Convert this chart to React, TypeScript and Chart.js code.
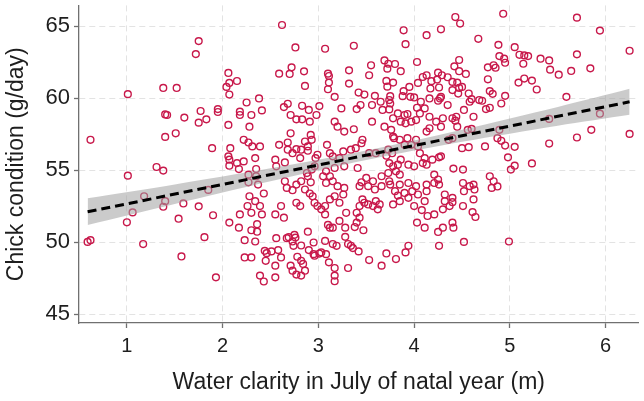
import { useEffect, useRef } from "react";
import { Chart, registerables } from "chart.js";

Chart.register(...registerables);

// Water clarity in July of the natal year (m), one value per chick
const waterClarity = [
  0.62, 1.01, 1.01, 1.38, 1.52, 1.40, 1.42, 1.40, 1.51, 1.60, 1.75, 1.72, 1.77, 1.75, 1.83, 1.89, 1.95, 1.31, 1.38, 1.18, 1.85,
  0.59, 0.62, 1.00, 1.06, 1.17, 1.38, 1.40, 1.54, 1.59, 1.57, 1.75, 1.81, 1.90, 1.93,
  2.62, 2.76, 2.06, 2.07, 2.04, 2.07, 2.15, 2.59, 2.70, 2.72, 2.85, 2.86, 2.25, 2.38, 2.41, 2.64, 2.68, 2.83, 2.90, 3.01, 2.18,
  3.89, 3.91, 3.07, 3.37, 3.10, 3.11, 3.11, 3.10, 3.32, 3.32, 3.55, 3.53, 3.69, 3.73, 3.72, 3.80, 3.86, 4.03, 3.71, 3.78,
  3.72, 3.95, 4.04, 3.17, 3.42, 3.48, 3.59, 3.75, 3.74, 3.75, 3.89, 3.88, 3.96, 4.00, 3.24, 3.40, 3.44, 3.56, 3.65, 4.03,
  4.43, 4.48, 4.93, 5.70, 5.94, 6.25, 4.13, 4.28, 4.67, 4.88, 5.05, 5.10, 5.15, 5.19, 4.89, 4.94, 4.95, 4.47, 5.32, 5.41,
  5.70, 5.42, 5.51, 5.64, 5.84, 5.14, 4.77, 4.83, 4.85, 4.42, 4.47, 4.54, 4.25, 4.29, 4.18, 4.24, 4.09, 4.13, 4.35, 4.40,
  4.45, 4.50, 4.77, 5.09, 5.15, 5.23, 5.28, 4.17, 4.26, 4.28, 4.40, 4.46, 4.47, 4.57, 4.79, 4.82, 4.95, 4.91, 5.59, 4.07,
  4.16, 4.25, 4.27, 4.35, 4.11, 4.52, 4.58, 4.60, 4.68, 4.71, 4.62, 4.75, 4.79, 4.06, 4.16, 4.23, 4.30, 4.40, 4.44, 4.16,
  4.28, 4.43, 4.45, 4.13, 4.56, 4.60, 4.89, 5.41, 5.94, 6.25, 5.70, 5.85, 5.41, 4.87, 4.91, 4.95, 5.05, 4.74, 4.50, 4.57,
  4.40, 4.36, 4.98, 5.23, 5.01, 5.05, 4.79, 4.83, 4.87, 4.81, 4.41, 4.51, 4.51, 4.52, 4.58, 4.62, 4.63, 4.06, 4.11, 4.09,
  4.13, 4.19, 4.26, 4.28, 4.21, 4.25, 4.21, 4.13, 4.26, 4.32, 4.40, 4.13,
  4.11, 4.08, 4.14, 4.21, 4.32, 4.40, 4.37, 4.30, 4.51, 4.62, 4.61, 4.64, 4.11, 4.25, 4.30, 4.40, 4.41, 4.26, 4.52, 4.99,
  1.95, 2.18, 2.30, 2.71, 2.77, 2.83, 2.91, 2.98, 2.06, 2.28, 2.71, 2.22, 2.27, 2.31, 2.39, 2.08, 2.06, 2.07, 2.07, 2.15,
  2.17, 2.22, 2.34, 2.35, 2.59, 2.68, 2.68, 2.73, 2.77, 2.82, 2.86, 2.89, 2.92, 2.93, 2.89, 2.55, 2.56, 2.65, 2.81, 2.97,
  2.99, 2.96, 2.27, 2.35, 2.37, 2.27, 2.43, 2.28, 2.34, 2.26, 2.39, 2.61, 2.55, 2.65, 2.67, 2.73, 2.77, 2.82, 2.89, 2.92,
  2.86, 2.91, 2.94, 2.77, 2.81, 2.96, 2.99, 2.93, 2.88, 2.18, 2.30, 2.41,
  2.07, 2.17, 2.36, 2.30, 2.36, 2.34, 2.23, 2.64, 2.23, 2.30, 2.44, 2.46, 2.45, 2.51, 2.58, 2.55, 2.61, 2.56, 2.67, 2.69,
  2.75, 2.76, 2.73, 2.74, 2.82, 2.89, 2.95, 2.90, 2.95, 2.96, 3.01, 2.78, 2.82, 2.84, 2.86, 2.71, 2.73, 2.77, 2.82, 2.39,
  2.43, 2.55,
  3.67, 3.74, 3.83, 3.90, 3.93, 3.78, 3.86, 3.91, 3.97, 4.02, 3.17, 3.20, 3.27, 3.37, 3.56, 3.69, 3.76, 3.79, 3.78, 3.85,
  3.90, 3.93, 4.02, 3.97, 4.04, 3.46, 3.45, 3.39, 3.34, 3.26, 3.09, 3.12, 3.15, 3.22, 3.53, 3.60, 3.73, 3.77, 3.71, 3.86,
  3.94, 4.00, 3.41, 3.27, 3.17, 3.08, 3.05, 3.12, 3.08, 3.74, 3.83, 3.78, 3.81, 3.73, 3.85, 3.50, 3.57, 3.66, 3.45, 3.43,
  3.52, 3.59, 3.66, 3.74, 3.75, 3.85, 3.80, 3.83, 3.90, 3.94, 3.94, 4.02, 3.98, 4.04, 4.00, 3.85, 3.78, 3.15, 3.20, 3.27,
  3.26, 3.17, 3.12, 3.07, 3.03, 3.22, 3.46, 3.48, 3.52, 3.57, 3.60, 3.64, 3.62, 3.43, 3.29, 3.40, 3.07,
  3.43, 3.40, 3.22, 3.10, 3.12, 3.15, 3.28, 3.38, 3.47, 4.03, 3.28, 3.07, 3.15, 3.19, 3.31, 3.34, 3.36, 3.42, 3.03, 3.08,
  3.11, 3.17, 3.17, 3.17, 3.31, 3.53, 3.66, 3.71, 3.81, 3.91, 3.94,
];

// Chick condition (g/day), paired with waterClarity by index
const chickCondition = [
  57.12, 60.29, 54.63, 60.72, 60.72, 58.88, 58.84, 57.32, 57.57, 58.66, 63.97, 63.07, 59.12, 58.31, 58.54, 56.54, 59.25, 55.23, 54.98, 53.20, 53.64,
  50.03, 50.15, 51.39, 52.08, 49.88, 52.47, 52.86, 51.64, 52.70, 49.02, 52.50, 50.36, 51.88, 47.57,
  65.09, 63.53, 61.76, 61.07, 60.79, 60.26, 61.20, 61.71, 61.69, 62.15, 61.87, 60.86, 59.71, 59.99, 59.16, 59.39, 59.62, 59.48, 59.19, 59.46, 59.07,
  64.72, 63.76, 63.44, 63.65, 61.71, 61.55, 61.09, 60.63, 61.94, 61.02, 62.29, 61.60, 62.63, 62.40, 62.06, 62.38, 61.88, 62.52, 61.21, 61.09,
  60.81, 60.79, 61.07, 60.10, 60.40, 60.26, 60.17, 60.15, 59.88, 59.64, 60.50, 60.15, 60.10, 60.06, 59.30, 59.25, 59.53, 59.53, 59.76, 59.34,
  65.64, 65.19, 65.87, 65.60, 64.70, 63.30, 64.38, 64.79, 64.13, 63.71, 63.55, 63.02, 62.98, 62.93, 62.93, 62.75, 62.47, 62.66, 62.75, 62.63,
  63.05, 61.99, 61.64, 61.90, 62.08, 62.40, 62.15, 62.29, 62.12, 62.22, 61.88, 61.69, 61.78, 61.60, 61.19, 61.30, 61.48, 61.60, 61.46, 61.14,
  61.09, 60.79, 61.32, 61.09, 61.37, 61.23, 60.61, 60.68, 60.75, 60.10, 60.57, 60.33, 60.72, 60.33, 60.50, 60.31, 60.17, 59.64, 60.10, 59.76,
  59.99, 59.83, 59.99, 59.53, 59.30, 59.19, 59.76, 59.94, 59.88, 59.83, 58.72, 59.25, 59.34, 58.95, 58.72, 58.38, 58.61, 58.61, 58.72, 57.92,
  58.03, 58.45, 58.03, 57.69, 57.81, 57.88, 57.81, 58.57, 58.93, 57.53, 57.28, 57.81, 56.86, 57.23, 57.05, 56.72, 56.63, 56.66, 56.54, 56.61,
  57.23, 57.12, 55.90, 55.48, 55.05, 55.32, 54.59, 54.24, 53.88, 53.78, 55.12, 55.05, 54.12, 53.55, 53.90, 54.01, 53.67, 56.19, 55.85, 55.50,
  55.39, 55.74, 55.90, 55.97, 54.70, 54.36, 54.12, 54.01, 54.01, 53.32, 53.09, 53.55,
  52.86, 52.24, 51.83, 51.94, 52.86, 52.79, 52.52, 52.29, 52.52, 52.98, 52.10, 51.76, 51.02, 50.72, 51.02, 51.37, 51.02, 49.76, 50.03, 50.06,
  59.05, 58.84, 58.84, 58.84, 58.54, 58.54, 58.38, 58.84, 58.15, 58.03, 57.57, 57.12, 56.93, 56.66, 56.66, 56.54, 55.97, 55.74, 55.32, 55.50,
  55.09, 55.62, 55.85, 55.09, 56.77, 56.93, 56.43, 56.19, 56.47, 56.43, 57.00, 56.66, 57.46, 57.12, 56.36, 55.74, 55.28, 55.55, 55.85, 55.85,
  56.08, 55.28, 54.70, 54.59, 54.01, 54.17, 53.39, 53.20, 52.86, 52.52, 52.52, 52.52, 51.94, 54.24, 53.78, 53.62, 54.01, 54.24, 54.59, 54.17,
  53.67, 53.39, 53.20, 52.75, 52.52, 52.75, 52.52, 55.05, 54.81, 51.94, 52.05, 51.94,
  51.37, 51.02, 51.26, 50.84, 50.74, 50.06, 50.15, 51.71, 48.95, 48.95, 49.41, 49.25, 48.72, 49.37, 49.46, 48.38, 48.95, 50.29, 50.29, 50.36,
  50.52, 50.33, 50.06, 49.76, 49.78, 50.74, 49.99, 49.46, 49.18, 49.07, 49.22, 49.00, 48.72, 48.50, 48.03, 48.38, 48.03, 47.76, 47.69, 47.69,
  47.28, 47.57,
  59.19, 59.23, 58.95, 58.84, 58.91, 58.61, 58.38, 58.26, 58.38, 58.49, 58.38, 58.03, 57.69, 57.85, 58.38, 58.03, 57.81, 57.23, 57.34, 57.12,
  56.77, 57.23, 57.12, 56.77, 56.66, 57.12, 56.88, 56.54, 56.43, 56.31, 56.77, 56.19, 55.97, 55.85, 56.19, 56.19, 56.43, 56.19, 56.01, 55.74,
  55.39, 55.28, 55.16, 55.28, 55.16, 54.93, 54.59, 54.59, 54.12, 55.50, 55.39, 55.28, 54.93, 54.81, 54.70, 54.47, 54.24, 54.59, 54.17, 53.90,
  53.90, 53.67, 53.90, 54.24, 54.01, 54.01, 53.55, 53.25, 53.43, 53.09, 54.12, 53.90, 53.55, 53.32, 52.52, 52.86, 52.63, 54.24, 53.90, 53.78,
  53.32, 53.20, 52.98, 52.52, 52.29, 52.75, 52.98, 52.75, 52.63, 52.52, 52.86, 52.63, 52.29, 52.52, 52.05, 52.05, 51.94,
  51.71, 51.37, 51.49, 51.21, 51.02, 51.02, 51.02, 51.06, 50.84, 51.37, 50.38, 50.10, 49.88, 49.76, 49.88, 49.76, 49.60, 49.37, 49.30, 49.18,
  48.61, 48.22, 47.69, 47.30, 48.22, 48.77, 48.38, 49.23, 48.84, 49.30, 49.76,
];

// Fitted linear trend and its 95% confidence band
const fitClarity = [0.59, 6.25];
const fitCondition = [52.12, 59.76];
const bandClarity = [0.59, 1.5, 2.5, 3.5, 4.5, 5.5, 6.25];
const bandLower = [51.2, 52.66, 54.24, 55.72, 56.98, 58.1, 58.86];
const bandUpper = [53.06, 54.02, 55.14, 56.38, 57.82, 59.4, 60.66];

// Axis ticks
const clarityTicks = [1, 2, 3, 4, 5, 6];
const conditionTicks = [45, 50, 55, 60, 65];

const FONT = "'Liberation Sans', Arial, Helvetica, sans-serif";
const TEXT = "#1e1e1e";
const AXIS = "#707070";
const GRID = "#e3e3e3";
const POINT = "#c8194b";
const BAND = "rgba(160, 160, 160, 0.55)";

function toXY(xs: number[], ys: number[]) {
  const n = Math.min(xs.length, ys.length);
  return Array.from({ length: n }, (_, i) => ({ x: xs[i], y: ys[i] }));
}

export default function App() {
  const canvasRef = useRef<HTMLCanvasElement>(null);

  useEffect(() => {
    const canvas = canvasRef.current;
    if (!canvas) return;

    const chart = new Chart(canvas, {
      type: "scatter",
      data: {
        datasets: [
          {
            type: "scatter",
            data: toXY(waterClarity, chickCondition),
            pointRadius: 3.4,
            pointBorderWidth: 1.4,
            pointBorderColor: POINT,
            pointBackgroundColor: "rgba(0,0,0,0)",
            borderColor: POINT,
            backgroundColor: "rgba(0,0,0,0)",
            order: 3,
          },
          {
            type: "line",
            data: toXY(bandClarity, bandLower),
            borderWidth: 0,
            borderColor: "rgba(0,0,0,0)",
            pointRadius: 0,
            fill: false,
            tension: 0.3,
            order: 2,
          },
          {
            type: "line",
            data: toXY(bandClarity, bandUpper),
            borderWidth: 0,
            borderColor: "rgba(0,0,0,0)",
            backgroundColor: BAND,
            pointRadius: 0,
            fill: "-1",
            tension: 0.3,
            order: 2,
          },
          {
            type: "line",
            data: toXY(fitClarity, fitCondition),
            borderColor: "#000000",
            borderWidth: 3,
            borderDash: [9, 5],
            pointRadius: 0,
            fill: false,
            order: 1,
          },
        ],
      },
      options: {
        animation: false,
        responsive: false,
        devicePixelRatio: 1,
        events: [],
        layout: { padding: { left: 0, right: 4, top: 3, bottom: 0 } },
        plugins: {
          legend: { display: false },
          tooltip: { enabled: false },
        },
        scales: {
          x: {
            type: "linear",
            min: 0.5,
            max: 6.344,
            afterBuildTicks: (scale: any) => {
              scale.ticks = clarityTicks.map((v) => ({ value: v }));
            },
            afterFit: (scale: any) => {
              scale.height = 78;
              scale.paddingLeft = 0;
              scale.paddingRight = 0;
            },
            grid: {
              color: GRID,
              lineWidth: 1,
              drawTicks: true,
              tickLength: 5,
              tickColor: AXIS,
              tickWidth: 1.3,
              tickBorderDash: [],
            },
            border: { display: true, color: AXIS, width: 1.3, dash: [6, 4] },
            ticks: {
              font: { family: FONT, size: 20 },
              color: TEXT,
              padding: 6,
              maxRotation: 0,
              callback: (v: any) => String(v),
            },
            title: {
              display: true,
              text: "Water clarity in July of natal year (m)",
              font: { family: FONT, size: 23 },
              color: TEXT,
              padding: { top: 0, bottom: 5 },
            },
          },
          y: {
            type: "linear",
            min: 44.4,
            max: 66.45,
            afterBuildTicks: (scale: any) => {
              scale.ticks = conditionTicks.map((v) => ({ value: v }));
            },
            afterFit: (scale: any) => {
              scale.width = 79;
              scale.paddingTop = 0;
              scale.paddingBottom = 0;
            },
            grid: {
              color: GRID,
              lineWidth: 1,
              drawTicks: true,
              tickLength: 5,
              tickColor: AXIS,
              tickWidth: 1.3,
              tickBorderDash: [],
            },
            border: { display: true, color: AXIS, width: 1.3, dash: [6, 4] },
            ticks: {
              font: { family: FONT, size: 22 },
              color: TEXT,
              padding: 4,
              callback: (v: any) => String(v),
            },
            title: {
              display: true,
              text: "Chick condition (g/day)",
              font: { family: FONT, size: 23 },
              color: TEXT,
              padding: { top: 3, bottom: 0 },
            },
          },
        },
      } as any,
    });

    return () => chart.destroy();
  }, []);

  return (
    <div
      style={{
        position: "fixed",
        left: 0,
        top: 0,
        width: 644,
        height: 401,
        background: "#ffffff",
      }}
    >
      <canvas
        ref={canvasRef}
        width={644}
        height={401}
        style={{ display: "block", width: 644, height: 401 }}
      />
    </div>
  );
}
